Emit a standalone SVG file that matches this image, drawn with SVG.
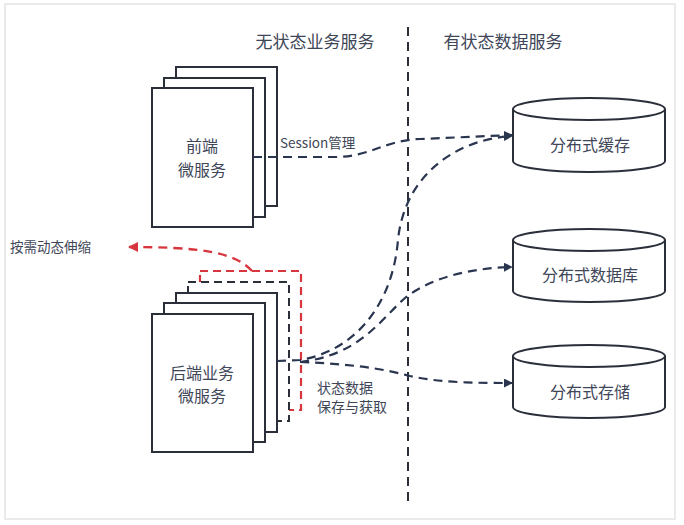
<svg xmlns="http://www.w3.org/2000/svg" width="684" height="525" viewBox="0 0 684 525">
<style>
.page{fill:#fff;stroke:#e4e4e4;stroke-width:1.5}
.card{fill:#fff;stroke:#2a2f3a;stroke-width:2}
.dcard{fill:#fff;stroke:#2a2f3a;stroke-width:2;stroke-dasharray:8 5}
.rcard{fill:#fff;stroke:#d8363f;stroke-width:2.2;stroke-dasharray:8 5}
.cyl{fill:#fff;stroke:#2a2f3a;stroke-width:2}
.t{font-family:"Noto Sans CJK SC","Noto Sans",sans-serif;fill:#3e4658}
.conn{fill:none;stroke:#2a3550;stroke-width:2.2;stroke-dasharray:9 6}
.red{fill:none;stroke:#d8363f;stroke-width:2.4;stroke-dasharray:9 6}
.div{stroke:#2a2f3a;stroke-width:2;stroke-dasharray:9 6}
</style>
<defs>
<marker id="ah" viewBox="0 0 10 10" refX="9" refY="5" markerWidth="9" markerHeight="9" markerUnits="userSpaceOnUse" orient="auto">
<path d="M0,0 L10,5 L0,10 z" fill="#2a3550"/>
</marker>
<marker id="ahr" viewBox="0 0 10 10" refX="9" refY="5" markerWidth="10" markerHeight="10" markerUnits="userSpaceOnUse" orient="auto">
<path d="M0,0 L10,5 L0,10 z" fill="#d8363f"/>
</marker>
</defs>
<rect class="page" x="5" y="4" width="670" height="515"/>
<g id="headers">
<text class="t" x="315" y="48" font-size="17" text-anchor="middle">无状态业务服务</text>
<text class="t" x="503" y="48" font-size="17" text-anchor="middle">有状态数据服务</text>
</g>
<line id="divider" class="div" x1="408" y1="27" x2="408" y2="507"/>
<g id="frontend">
<rect class="card" x="176" y="67" width="101" height="139"/>
<rect class="card" x="164" y="78" width="101" height="139"/>
<rect class="card" x="152" y="88" width="101" height="139"/>
<text class="t" x="202" y="152" font-size="16" text-anchor="middle">前端</text>
<text class="t" x="202" y="176" font-size="16" text-anchor="middle">微服务</text>
</g>
<g id="backend">
<rect class="rcard" x="200" y="271" width="101" height="139"/>
<rect class="dcard" x="188" y="282" width="101" height="139"/>
<rect class="card" x="176" y="293" width="101" height="139"/>
<rect class="card" x="164" y="303" width="101" height="139"/>
<rect class="card" x="152" y="314" width="101" height="138"/>
<text class="t" x="202" y="379" font-size="16" text-anchor="middle">后端业务</text>
<text class="t" x="202" y="402" font-size="16" text-anchor="middle">微服务</text>
</g>
<g id="cache">
<path class="cyl" d="M513,109 L513,161 A76,11 0 0 0 665,161 L665,109"/>
<ellipse class="cyl" cx="589" cy="109" rx="76" ry="11"/>
<text class="t" x="590" y="151" font-size="16" text-anchor="middle">分布式缓存</text>
</g>
<g id="database">
<path class="cyl" d="M513,240 L513,291 A76,11 0 0 0 665,291 L665,240"/>
<ellipse class="cyl" cx="589" cy="240" rx="76" ry="11"/>
<text class="t" x="590" y="281" font-size="16" text-anchor="middle">分布式数据库</text>
</g>
<g id="storage">
<path class="cyl" d="M513,356 L513,407 A76,11 0 0 0 665,407 L665,356"/>
<ellipse class="cyl" cx="589" cy="356" rx="76" ry="11"/>
<text class="t" x="590" y="398" font-size="16" text-anchor="middle">分布式存储</text>
</g>
<g id="connectors">
<path class="conn" d="M253,157 L335,157 C370,157 385,140 420,139 L512,135" marker-end="url(#ah)"/>
<path class="conn" d="M277,361 L300,360 C350,352 392,310 398,240 C404,180 450,140 512,136" marker-end="url(#ah)"/>
<path class="conn" d="M300,362 C360,355 380,320 405,298 C430,278 470,268 512,267" marker-end="url(#ah)"/>
<path class="conn" d="M300,362 C350,364 380,368 410,376 C440,383 480,383 512,383" marker-end="url(#ah)"/>
<path class="red" d="M252,271 C235,252 200,247 129,247" marker-end="url(#ahr)"/>
</g>
<g id="labels">
<text class="t" x="280" y="148" font-size="13.5">Session管理</text>
<text class="t" x="10" y="252" font-size="13.5">按需动态伸缩</text>
<text class="t" x="317" y="393" font-size="14">状态数据</text>
<text class="t" x="317" y="412" font-size="14">保存与获取</text>
</g>
</svg>
